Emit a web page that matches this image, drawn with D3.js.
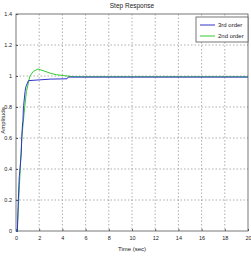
<!DOCTYPE html>
<html>
<head>
<meta charset="utf-8">
<script src="https://d3js.org/d3.v7.min.js"></script>
<style>
body{margin:0;background:#fff;}
text{font-family:"Liberation Sans Narrow","Liberation Sans",Arial,sans-serif;fill:#222;}
</style>
</head>
<body>
<div id="chart"></div>
<script>
// step response samples
var time3=[0,0.12,0.18,0.2,0.28,0.3,0.45,0.5,0.57,0.6,0.64,0.66,0.78,0.85,1.07,2,3,4.4,4.5,20];
var amp3=[0,0,0.15,0.2,0.35,0.36,0.5,0.61,0.7,0.71,0.8,0.81,0.9,0.93,0.97,0.975,0.98,0.982,0.993,0.993];
var time2=[0,0.1,0.3,0.5,0.75,0.9,1.2,1.5,1.9,2.5,3,3.5,4.4,5,20];
var amp2=[0,0,0.3,0.6,0.8,0.9,1.0,1.03,1.045,1.03,1.017,1.008,1.0,0.995,0.995];
var xTicks=[0,2,4,6,8,10,12,14,16,18,20];
var yTicks=[0,0.2,0.4,0.6,0.8,1,1.2,1.4];
var seriesNames=["3rd order","2nd order"];
var seriesColors=["#3333cc","#33cc33"];

var width=251,height=256;
var margin={top:14,right:3,bottom:25,left:16};
var gw=width-margin.left-margin.right,gh=height-margin.top-margin.bottom;

var svg=d3.select("#chart").append("svg").attr("width",width).attr("height",height);
var g=svg.append("g").attr("transform","translate("+margin.left+","+margin.top+")");

var x=d3.scaleLinear().domain([0,20]).range([0,gw]);
var y=d3.scaleLinear().domain([0,1.4]).range([gh,0]);

// grid
g.selectAll(".gx").data(xTicks.slice(1,-1)).enter().append("line")
	.attr("x1",function(d){return x(d);}).attr("x2",function(d){return x(d);})
	.attr("y1",0).attr("y2",gh)
	.attr("stroke","#999").attr("stroke-dasharray","1.5,2").attr("stroke-width",0.8);
g.selectAll(".gy").data(yTicks.slice(1,-1)).enter().append("line")
	.attr("y1",function(d){return y(d);}).attr("y2",function(d){return y(d);})
	.attr("x1",0).attr("x2",gw)
	.attr("stroke","#999").attr("stroke-dasharray","1.5,2").attr("stroke-width",0.8);

// axes
var xa=g.append("g").attr("transform","translate(0,"+gh+")")
	.call(d3.axisBottom(x).tickValues(xTicks).tickSizeInner(-2).tickSizeOuter(0).tickPadding(5));
var ya=g.append("g")
	.call(d3.axisLeft(y).tickValues(yTicks).tickFormat(function(d){return d3.format("")(d);}).tickSizeInner(-2).tickSizeOuter(0).tickPadding(4));
[xa,ya].forEach(function(a){
	a.selectAll("text").style("font-size","5.5px").attr("fill","#555");
	a.selectAll("line").attr("stroke","#555");
	a.select(".domain").remove();
});

// frame
g.append("rect").attr("width",gw).attr("height",gh).attr("fill","none").attr("stroke","#555").attr("stroke-width",0.8);

// curves
var line=d3.line().x(function(d){return x(d[0]);}).y(function(d){return y(d[1]);});
g.append("path").datum(d3.zip(time2,amp2)).attr("d",line)
	.attr("fill","none").attr("stroke",seriesColors[1]).attr("stroke-width",1);
g.append("path").datum(d3.zip(time3,amp3)).attr("d",line)
	.attr("fill","none").attr("stroke",seriesColors[0]).attr("stroke-width",1);

// legend
var lg=g.append("g").attr("transform","translate("+(gw-52)+",3)");
lg.append("rect").attr("width",52).attr("height",25).attr("fill","#fff").attr("stroke","#555").attr("stroke-width",0.8);
seriesNames.forEach(function(n,i){
	lg.append("line").attr("x1",4).attr("x2",19).attr("y1",8+i*11).attr("y2",8+i*11)
		.attr("stroke",seriesColors[i]).attr("stroke-width",1);
	lg.append("text").attr("x",22).attr("y",10+i*11).style("font-size","6px").text(n);
});

// labels
svg.append("text").attr("x",margin.left+gw/2).attr("y",8).attr("text-anchor","middle").style("font-size","6.5px").text("Step Response");
svg.append("text").attr("x",margin.left+gw/2).attr("y",251).attr("text-anchor","middle").style("font-size","6px").text("Time (sec)");
svg.append("text").attr("transform","translate(5,"+(margin.top+gh/2-2)+") rotate(-90)").attr("text-anchor","middle").style("font-size","6px").text("Amplitude");
</script>
</body>
</html>
